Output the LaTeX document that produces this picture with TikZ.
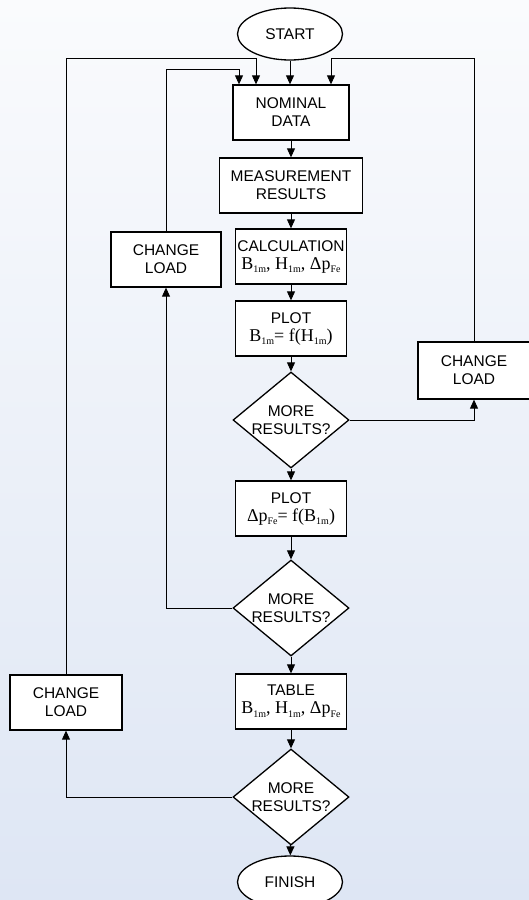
\documentclass[tikz,border=0pt]{standalone}
\usepackage{fontspec}
\setmainfont{Liberation Sans}
\newfontfamily\tms{Liberation Serif}
\usetikzlibrary{shapes.geometric, arrows.meta}
\usepackage{color}
\definecolor{bgtop}{RGB}{250,251,253}
\definecolor{bgbot}{RGB}{222,230,244}
\newcommand{\sbs}[1]{\raisebox{-3.5pt}{\fontsize{10}{10}\selectfont #1}}
\newcommand{\frm}{\fontsize{18}{18}\tms}
\tikzstyle{terminal} = [ellipse, minimum width=105pt, minimum height=52pt, text centered, draw=black, fill=white, line width=1.3pt]
\tikzstyle{process} = [rectangle, minimum width=111pt, minimum height=55pt, inner xsep=2pt, align=center, draw=black, fill=white, line width=1.3pt]
\tikzstyle{decision} = [diamond, minimum width=116pt, minimum height=96pt, inner sep=-6pt, align=center, draw=black, fill=white, line width=1.3pt]
\tikzstyle{arrow} = [line width=0.9pt, -{Triangle[length=9pt,width=8pt]}]

\begin{document}
\begin{tikzpicture}[node distance=72pt, font=\fontsize{15.5}{18}\selectfont]
        % Background
        \useasboundingbox (0,0) rectangle (529pt,-900pt);
        \shade [top color=bgtop, bottom color=bgbot] (0,0) rectangle (529pt,-900pt);

        % Nodes
        \node (start) [terminal] at (290pt,-34pt) {START};
        \node (nominal) [process, below of=start, xshift=1pt, yshift=-6.5pt, minimum width=116pt] {NOMINAL\\DATA};
        \node (measure) [process, below of=nominal, yshift=-1pt, minimum width=143pt] {MEASUREMENT\\RESULTS};
        \node (calc) [process, below of=measure, yshift=1pt] {CALCULATION\\{\frm B\sbs{1m}, H\sbs{1m}, Δp\sbs{Fe}}};
        \node (plotBH) [process, below of=calc] {PLOT\\{\frm B\sbs{1m}= f(H\sbs{1m})}};
        \node (moreA) [decision, below of=plotBH, yshift=-19.5pt] {MORE\\RESULTS?};
        \node (plotPB) [process, below of=moreA, yshift=-16.5pt] {PLOT\\{\frm Δp\sbs{Fe}= f(B\sbs{1m})}};
        \node (moreB) [decision, below of=plotPB, yshift=-27.5pt] {MORE\\RESULTS?};
        \node (table) [process, below of=moreB, yshift=-21.5pt] {TABLE\\{\frm B\sbs{1m}, H\sbs{1m}, Δp\sbs{Fe}}};
        \node (moreC) [decision, below of=table, yshift=-23.5pt] {MORE\\RESULTS?};
        \node (finish) [terminal, below of=moreC, xshift=-1pt, yshift=-13pt] {FINISH};

        \node (loadB) [process, left of=calc, xshift=-53pt, yshift=-3pt, minimum width=110pt] {CHANGE\\LOAD};
        \node (loadA) [process, right of=moreA, xshift=111pt, yshift=49.5pt, minimum width=112pt, minimum height=57pt] {CHANGE\\LOAD};
        \node (loadC) [process, left of=table, xshift=-153pt, yshift=-1pt, minimum width=112pt] {CHANGE\\LOAD};

        % Entry points on top of nominal data
        \coordinate (inB) at ([xshift=-52pt]nominal.north);
        \coordinate (inC) at ([xshift=-35pt]nominal.north);
        \coordinate (inA) at ([xshift=40pt]nominal.north);

        % Arrows
        \draw [arrow] (start) -- (start |- nominal.north);
        \draw [arrow] (nominal) -- (measure);
        \draw [arrow] (measure) -- (calc);
        \draw [arrow] (calc) -- (plotBH);
        \draw [arrow] (plotBH) -- (moreA);
        \draw [arrow] (moreA) -- (plotPB);
        \draw [arrow] (plotPB) -- (moreB);
        \draw [arrow] (moreB) -- (table);
        \draw [arrow] (table) -- (moreC);
        \draw [arrow] (moreC) -- (finish);

        \draw [arrow] (moreA.east) -| (loadA.south);
        \draw [arrow] (loadA.north) |- ([yshift=26pt]inA) -- (inA);
        \draw [arrow] (moreB.west) -| (loadB.south);
        \draw [arrow] (loadB.north) |- ([yshift=15pt]inB) -- (inB);
        \draw [arrow] (moreC.west) -| (loadC.south);
        \draw [arrow] (loadC.north) |- ([yshift=26pt]inC) -- (inC);
    \end{tikzpicture}
\end{document}
